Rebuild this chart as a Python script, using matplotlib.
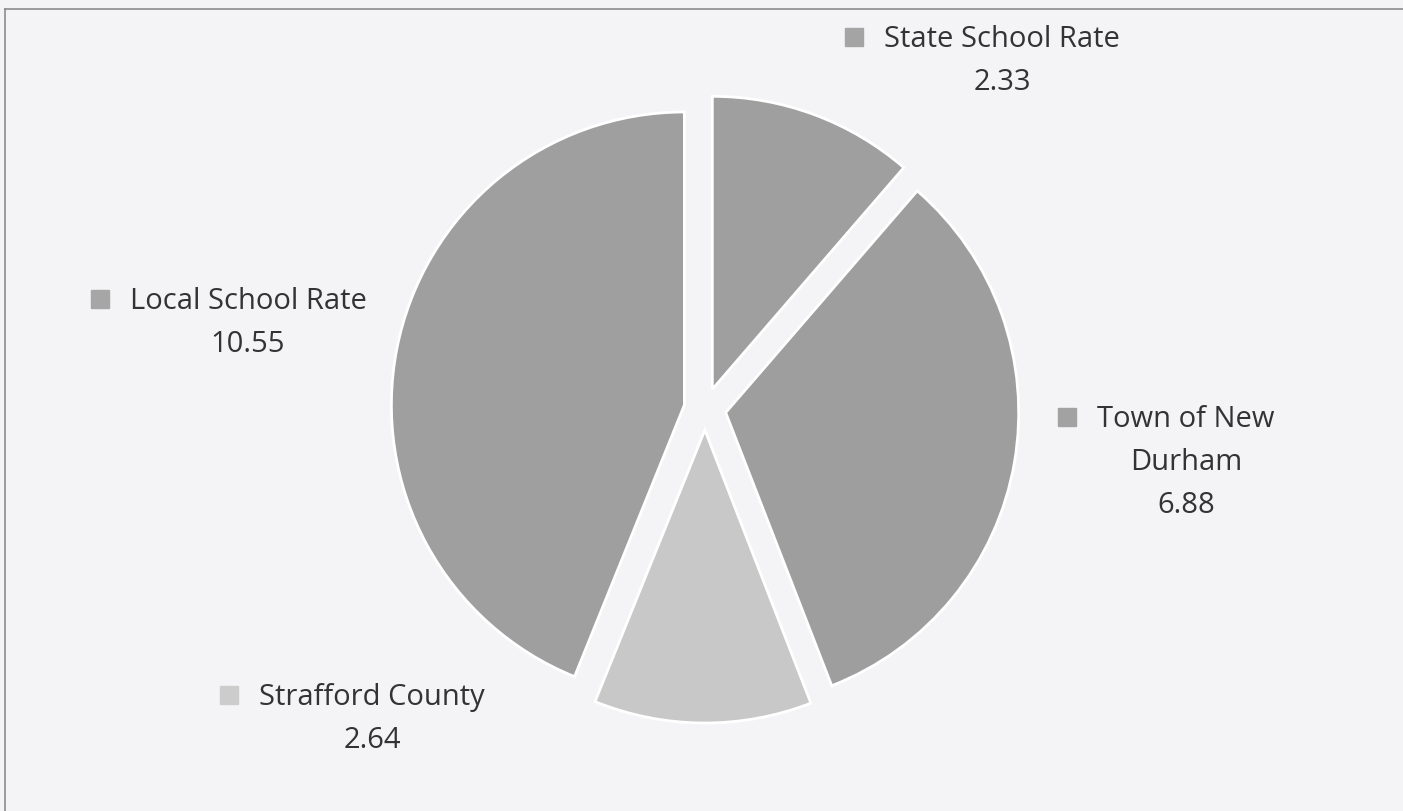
import matplotlib
matplotlib.use("Agg")
import matplotlib.pyplot as plt

# ---- data ----
categories = ["State School Rate", "Town of New Durham", "Strafford County", "Local School Rate"]
# printed data labels
value_labels = ["2.33", "6.88", "2.64", "10.55"]
# slice sizes
slice_values = [2.54, 7.34, 2.69, 9.83]
label_lines = [["State School Rate"], ["Town of New", "Durham"], ["Strafford County"], ["Local School Rate"]]

# ---- style / layout ----
W, H = 1403, 811
slice_colors = ["#9f9f9f", "#9e9e9e", "#c8c8c8", "#9f9f9f"]
marker_colors = ["#a4a4a4", "#a2a2a2", "#cccccc", "#a6a6a6"]
bg = "#f4f4f6"
text_color = "#333333"
center_px = (705, 409)
radius_px = 293
explode_px = 21
# label block centre x and first-line baseline y, in image pixels
label_pos = [(1002, 47), (1186, 427), (372, 705), (248, 309)]
line_gap = 43
font = "Open Sans"
fs = 21

fig = plt.figure(figsize=(W / 100, H / 100), dpi=100, facecolor=bg)
ax = fig.add_axes([0, 0, 1, 1])
ax.set_facecolor(bg)

ax.pie(slice_values, colors=slice_colors, startangle=90, counterclock=False,
       center=(center_px[0], H - center_px[1]), radius=radius_px,
       explode=[explode_px] * len(slice_values),
       wedgeprops=dict(edgecolor="white", linewidth=2), frame=True)
ax.set_xlim(0, W)
ax.set_ylim(0, H)
ax.set_aspect("equal")
ax.axis("off")

fig.canvas.draw()
for lines, val, (bx, by), mcol in zip(label_lines, value_labels, label_pos, marker_colors):
    all_lines = lines + [val]
    first = None
    for i, ln in enumerate(all_lines):
        t = ax.text(bx, H - (by + i * line_gap), ln, ha="center", va="baseline",
                    fontsize=fs, family=font, color=text_color)
        if first is None:
            first = t
    bb = first.get_window_extent(renderer=fig.canvas.get_renderer())
    inv = ax.transData.inverted()
    x0, _ = inv.transform((bb.x0, bb.y0))
    ax.plot([x0 - 30], [H - (by - 10)], marker="s", markersize=12.5,
            color=mcol, linestyle="none")

# frame lines (top and left)
ax.plot([5, W], [H - 9, H - 9], color="#8c8c8c", linewidth=1.2)
ax.plot([5, 5], [H - 9, 0], color="#8c8c8c", linewidth=1.2)

fig.savefig("out.png", dpi=100, facecolor=bg)
